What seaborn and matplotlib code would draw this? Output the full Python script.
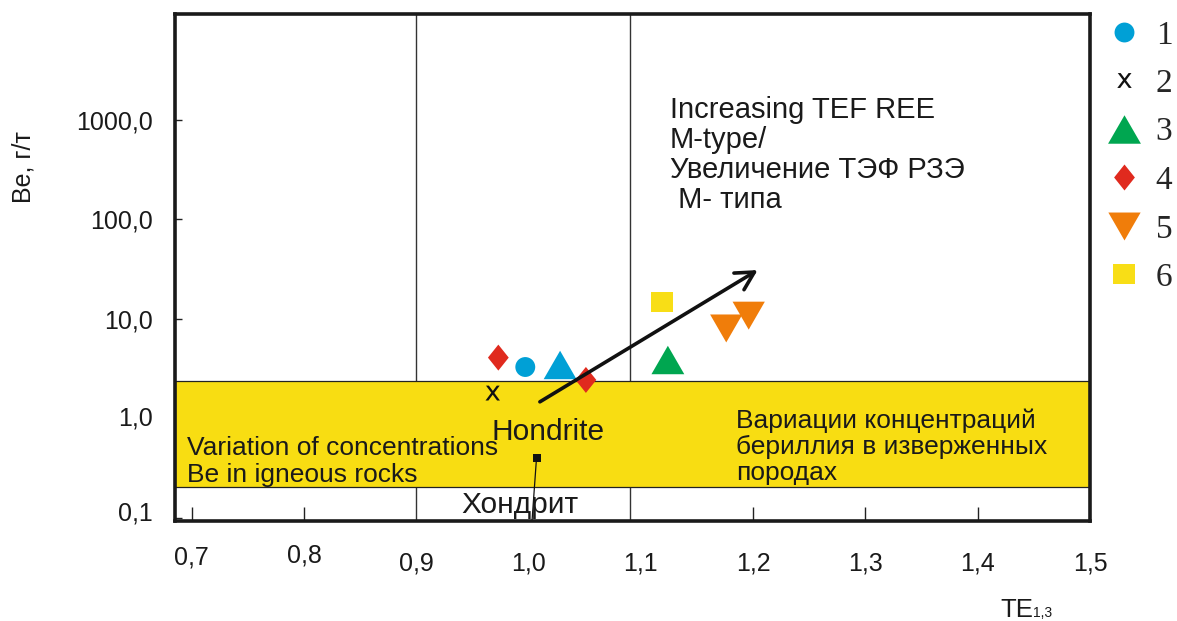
import numpy as np
import pandas as pd
import matplotlib
matplotlib.use("Agg")
import matplotlib.pyplot as plt
from matplotlib.lines import Line2D
from matplotlib.markers import MarkerStyle
from matplotlib.path import Path
from matplotlib.transforms import ScaledTranslation
import seaborn as sns

# ---- data -------------------------------------------------------------
te_values = [0.997, 0.968, 1.124, 1.028, 0.973, 1.051, 1.176, 1.196, 1.119]
be_values = [3.29, 1.80, 3.87, 3.45, 4.09, 2.44, 8.03, 10.8, 14.8]
groups = ["1", "2", "3", "3", "4", "4", "5", "5", "6"]
fill_keys = ["1", "2", "3", "1", "4", "4", "5", "5", "6"]

legend_labels = ["1", "2", "3", "4", "5", "6"]

chondrite_te = [1.007]
chondrite_be = [0.40]

band_low, band_high = 0.205, 2.38
arrow_start = (1.010, 1.47)
arrow_end = (1.204, 31.0)
guide_lines = [0.9, 1.09]

x_ticks = [0.7, 0.8, 0.9, 1.0, 1.1, 1.2, 1.3, 1.4, 1.5]
x_ticklabels = ["0,7", "0,8", "0,9", "1,0", "1,1", "1,2", "1,3", "1,4", "1,5"]
y_ticks = [0.1, 1, 10, 100, 1000]
y_ticklabels = ["0,1", "1,0", "10,0", "100,0", "1000,0"]

# ---- styling ----------------------------------------------------------
sns.set_theme(style="white")
plt.rcParams["font.family"] = ["Liberation Sans", "DejaVu Sans"]

palette = {"1": "#00a0d6", "2": "#111111", "3": "#00a650",
           "4": "#e02a1e", "5": "#f07d0a", "6": "#f8de16"}

tri_up = MarkerStyle(Path([(-1, -0.866), (1, -0.866), (0, 0.866), (-1, -0.866)],
                          [Path.MOVETO, Path.LINETO, Path.LINETO, Path.CLOSEPOLY]))
tri_down = MarkerStyle(Path([(-1, 0.866), (1, 0.866), (0, -0.866), (-1, 0.866)],
                            [Path.MOVETO, Path.LINETO, Path.LINETO, Path.CLOSEPOLY]))
diamond = MarkerStyle(Path([(0, 1), (0.8, 0), (0, -1), (-0.8, 0), (0, 1)],
                           [Path.MOVETO, Path.LINETO, Path.LINETO, Path.LINETO, Path.CLOSEPOLY]))
rect = MarkerStyle(Path([(-1, -0.87), (1, -0.87), (1, 0.87), (-1, 0.87), (-1, -0.87)],
                        [Path.MOVETO, Path.LINETO, Path.LINETO, Path.LINETO, Path.CLOSEPOLY]))
cross = MarkerStyle(r"$\mathsf{x}$")

markers = {"1": "o", "2": cross, "3": tri_up, "4": diamond, "5": tri_down, "6": rect}
sizes = {"1": 205, "2": 115, "3": 560, "4": 350, "5": 540, "6": 250}

df = pd.DataFrame({"te": te_values, "be": be_values,
                   "group": groups, "fill": fill_keys})

fig = plt.figure(figsize=(11.77, 6.21), dpi=100)
ax = fig.add_axes([175 / 1177, 1 - 521 / 621, 915 / 1177, 507 / 621])

ax.set_yscale("log")
ax.set_xlim(0.685, 1.496)
ax.set_ylim(0.0933, 11600)

for gx in guide_lines:
    ax.axvline(gx, color="#333333", lw=1.0, zorder=1)

ax.axhspan(band_low, band_high, facecolor="#f8dd12", edgecolor="#222222",
           lw=0.9, zorder=2.6)

sns.scatterplot(data=df, x="te", y="be", hue="fill", style="group",
                size="group", sizes=sizes, markers=markers, palette=palette,
                linewidth=0, edgecolor="none", legend=False, ax=ax, zorder=4)

# chondrite reference point with its leader line
ax.plot([chondrite_te[0], 1.003], [chondrite_be[0], 0.0933],
        color="#111111", lw=0.9, zorder=3.5)
sns.scatterplot(x=chondrite_te, y=chondrite_be, marker="s", s=34,
                color="#111111", linewidth=0, legend=False, ax=ax, zorder=4)

ax.annotate("", xy=arrow_end, xytext=arrow_start,
            arrowprops=dict(arrowstyle="->, head_length=0.65, head_width=0.35",
                            lw=2.6, color="#111111", mutation_scale=20,
                            shrinkA=0, shrinkB=0),
            zorder=5)

# ---- axes, ticks ------------------------------------------------------
for sp in ax.spines.values():
    sp.set_linewidth(2.6)
    sp.set_color("#1a1a1a")
    sp.set_zorder(6)

ax.set_xlabel("")
ax.set_ylabel("")
ax.set_xticks(x_ticks)
ax.set_xticklabels(x_ticklabels)
ax.set_yticks(y_ticks)
ax.set_yticklabels(y_ticklabels)
ax.minorticks_off()
ax.tick_params(axis="x", direction="in", length=10, width=1.0, color="#222222",
               pad=22, labelsize=18, labelcolor="#1a1a1a", bottom=True)
ax.tick_params(axis="y", direction="in", length=5, width=1.0, color="#222222",
               pad=16, labelsize=18, labelcolor="#1a1a1a", left=True)
for tick, val in zip(ax.xaxis.get_major_ticks(), x_ticks):
    if val in (0.9, 1.0, 1.1, 1.5):
        tick.tick1line.set_visible(False)

# small vertical nudges of individual tick labels (points)
x_nudge = {0.7: 4, 0.8: 6}
for tick, val in zip(ax.xaxis.get_major_ticks(), x_ticks):
    if val in x_nudge:
        lab = tick.label1
        lab.set_transform(lab.get_transform() +
                          ScaledTranslation(0, x_nudge[val] / 72, fig.dpi_scale_trans))
y_nudge = {0.1: 5, 1: 2}
for tick, val in zip(ax.yaxis.get_major_ticks(), y_ticks):
    if val in y_nudge:
        lab = tick.label1
        lab.set_transform(lab.get_transform() +
                          ScaledTranslation(0, y_nudge[val] / 72, fig.dpi_scale_trans))

fig.text(23 / 1177, 1 - 167 / 621, "Be, г/т", rotation=90, ha="center",
         va="center", fontsize=18, color="#1a1a1a")
fig.text(1000 / 1177, 1 - 617 / 621, "TE", ha="left", va="baseline",
         fontsize=18.5, color="#1a1a1a")
fig.text(1033 / 1177, 1 - 617 / 621, "1,3", ha="left", va="baseline",
         fontsize=10, color="#1a1a1a")

# ---- annotations (y = baseline of the last line) ------------------------
fig.text(670 / 1177, 1 - 208 / 621,
         "Increasing TEF REE\nM-type/\nУвеличение ТЭФ РЗЭ\n M- типа",
         ha="left", va="baseline", fontsize=21, linespacing=1.09,
         color="#1a1a1a")
fig.text(736 / 1177, 1 - 480 / 621,
         "Вариации концентраций\nбериллия в изверженных\nпородах",
         ha="left", va="baseline", fontsize=19, linespacing=1.10,
         color="#1a1a1a", zorder=7)
fig.text(187 / 1177, 1 - 482 / 621,
         "Variation of concentrations\nBe in igneous rocks",
         ha="left", va="baseline", fontsize=19, linespacing=1.14,
         color="#1a1a1a", zorder=7)
fig.text(548 / 1177, 1 - 440 / 621, "Hondrite", ha="center", va="baseline",
         fontsize=21.5, color="#1a1a1a", zorder=7)
fig.text(520 / 1177, 1 - 513 / 621, "Хондрит", ha="center", va="baseline",
         fontsize=21.5, color="#1a1a1a", zorder=7)

# ---- legend -----------------------------------------------------------
handles = [Line2D([], [], ls="none", marker=markers[k], color=palette[k],
                  markersize=np.sqrt(sizes[k]), markeredgewidth=0)
           for k in legend_labels]
leg = fig.legend(handles, legend_labels, loc="upper left",
                 bbox_to_anchor=(1104 / 1177, 1 - 20 / 621), frameon=False,
                 prop={"family": "Liberation Serif", "size": 24},
                 labelspacing=0.54, handlelength=1.2, handletextpad=0.35,
                 borderpad=0, borderaxespad=0)

fig.savefig("out.png", dpi=100)
